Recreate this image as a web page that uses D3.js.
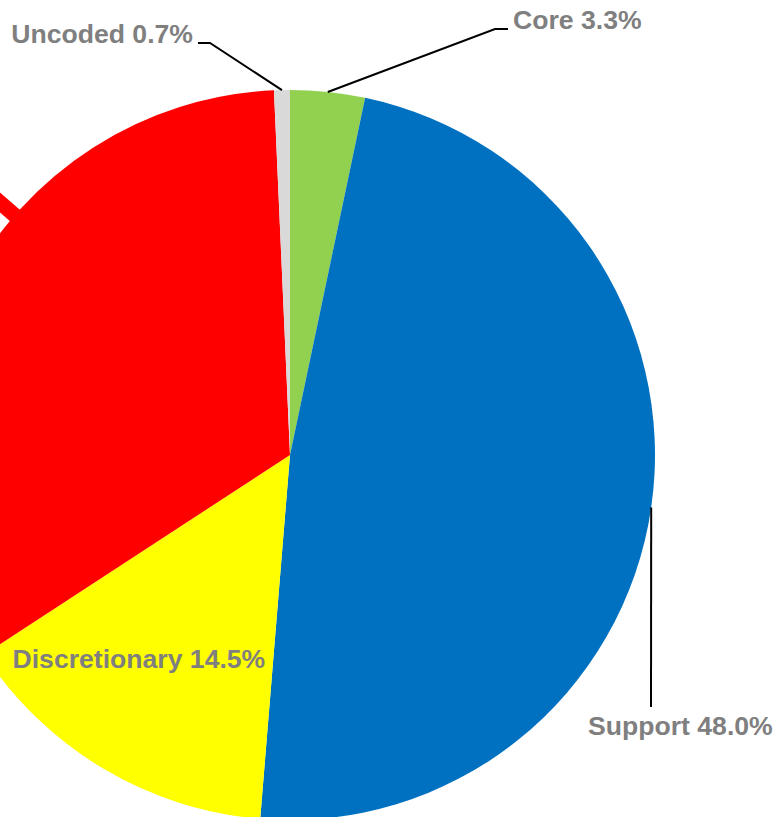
<!DOCTYPE html>
<html>
<head>
<meta charset="utf-8">
<script src="https://cdn.jsdelivr.net/npm/d3@7/dist/d3.min.js"></script>
<style>
  html, body { margin: 0; padding: 0; background: #ffffff; }
  svg { display: block; }
  .lbl { font-family: "Liberation Sans", Arial, sans-serif; font-weight: bold; font-size: 26.6px; fill: #7f7f7f; }
</style>
</head>
<body>
<svg id="chart" width="774" height="817"></svg>
<script>
// Budget share by category, clockwise from 12 o'clock
const categories = ["Core", "Support", "Discretionary", "Other", "Uncoded"];
const shares = [3.3, 48.0, 14.5, 33.5, 0.7];
const sliceColors = ["#92D050", "#0070C0", "#FFFF00", "#FF0000", "#D9D9D9"];
const labelTexts = ["Core 3.3%", "Support 48.0%", "Discretionary 14.5%", null, "Uncoded 0.7%"];

const W = 774, H = 817;
const cx = 290, cy = 455, R = 365;

const svg = d3.select("#chart");
const g = svg.append("g").attr("transform", `translate(${cx},${cy})`);

const rows = categories.map((c, i) => ({ name: c, value: shares[i], color: sliceColors[i], label: labelTexts[i] }));

const pie = d3.pie().sort(null).value(d => d.value).startAngle(0).endAngle(2 * Math.PI);
const arcs = pie(rows);
const arc = d3.arc().innerRadius(0).outerRadius(R);

g.selectAll("path.slice")
  .data(arcs)
  .enter().append("path")
  .attr("class", "slice")
  .attr("d", arc)
  .attr("fill", d => d.data.color);

// polar helper: angle measured clockwise from 12 o'clock
const polar = (a, r) => [Math.sin(a) * r, -Math.cos(a) * r];
const mid = d => (d.startAngle + d.endAngle) / 2;

// red callout stroke leaving the "Other" slice toward its off-canvas label
const other = arcs[3];
const aOther = other.startAngle + 0.615 * (other.endAngle - other.startAngle);
g.append("line")
  .attr("x1", polar(aOther, R - 30)[0]).attr("y1", polar(aOther, R - 30)[1])
  .attr("x2", polar(aOther, R + 80)[0]).attr("y2", polar(aOther, R + 80)[1])
  .attr("stroke", "#FF0000").attr("stroke-width", 15);

// label placement (page coordinates)
const labelLayout = {
  "Core":          { path: [[495, 29], [508, 29]], x: 513, y: 28.5, anchor: "start" },
  "Uncoded":       { path: [[210, 43], [198, 43]], x: 193, y: 43, anchor: "end" },
  "Support":       { path: [[651, 707]], x: 588, y: 735, anchor: "start" },
  "Discretionary": { path: null, x: 12.5, y: 668, anchor: "start" }
};

const line = d3.line();
arcs.forEach(d => {
  const lay = labelLayout[d.data.name];
  if (!lay || !d.data.label) return;
  if (lay.path) {
    const p0 = polar(mid(d), R);
    const pts = [[cx + p0[0], cy + p0[1]]].concat(lay.path);
    svg.append("path")
      .attr("d", line(pts))
      .attr("fill", "none")
      .attr("stroke", "#000000")
      .attr("stroke-width", 2);
  }
  svg.append("text")
    .attr("class", "lbl")
    .attr("x", lay.x).attr("y", lay.y)
    .attr("text-anchor", lay.anchor)
    .text(d.data.label);
});
</script>
</body>
</html>
